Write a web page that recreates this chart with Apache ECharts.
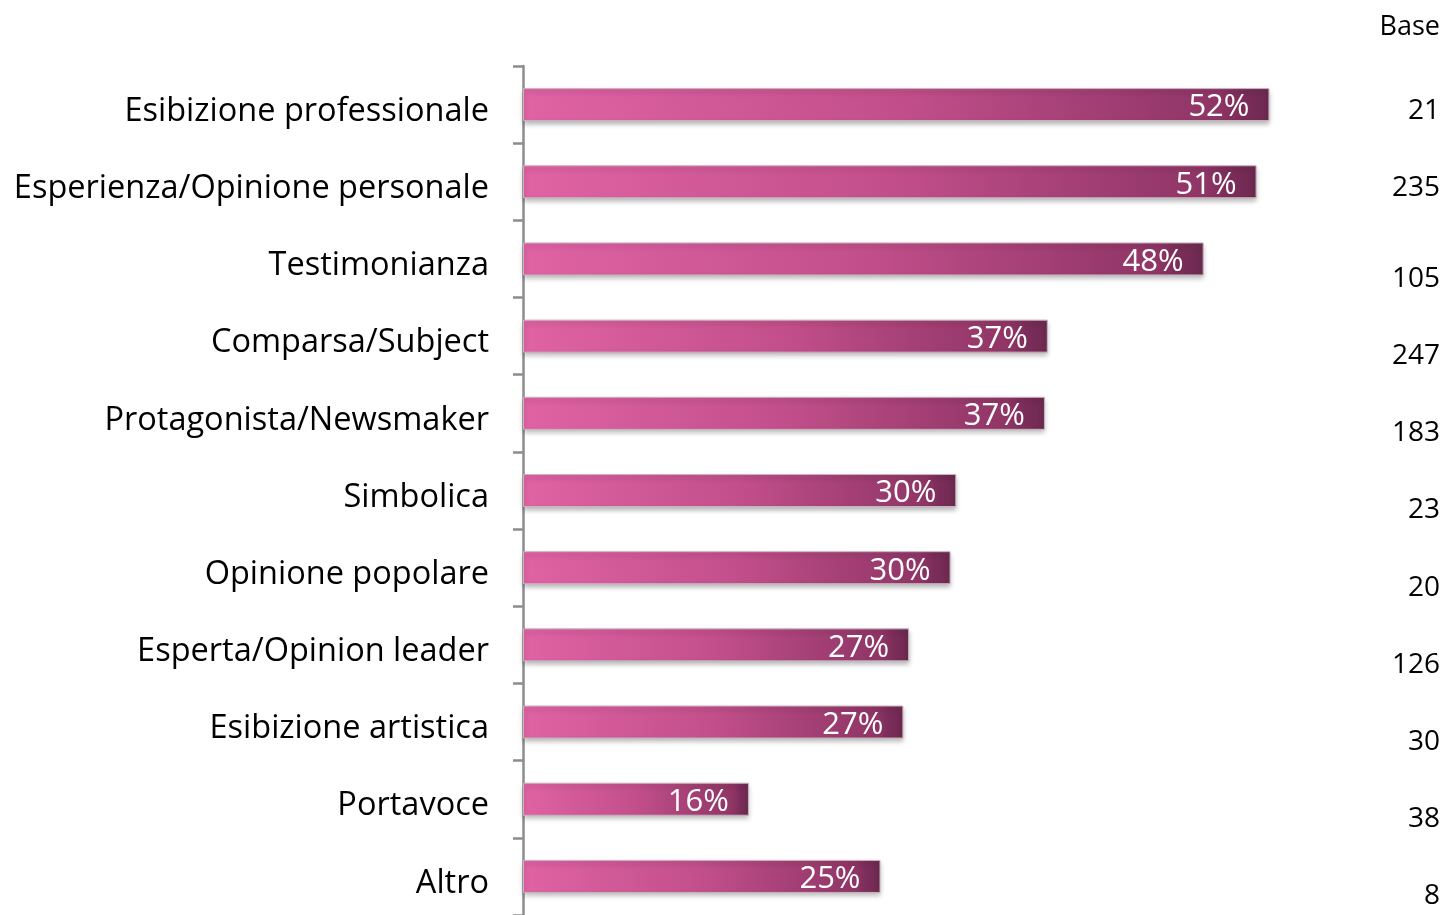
<!DOCTYPE html>
<html>
<head>
<meta charset="utf-8">
<title>Ruolo</title>
<script src="https://cdn.jsdelivr.net/npm/echarts@6/dist/echarts.min.js"></script>
<style>
  html, body { margin: 0; padding: 0; background: #fff; }
  #chart { width: 1445px; height: 915px; }
</style>
</head>
<body>
<div id="chart"></div>
<script>
  var categories = [
    "Esibizione professionale",
    "Esperienza/Opinione personale",
    "Testimonianza",
    "Comparsa/Subject",
    "Protagonista/Newsmaker",
    "Simbolica",
    "Opinione popolare",
    "Esperta/Opinion leader",
    "Esibizione artistica",
    "Portavoce",
    "Altro"
  ];
  var percentValues = [52.2, 51.3, 47.6, 36.7, 36.5, 30.3, 29.9, 27.0, 26.6, 15.8, 25.0];
  var baseValues = ["21", "235", "105", "247", "183", "23", "20", "126", "30", "38", "8"];

  var font = "'Open Sans', 'Noto Sans', sans-serif";
  var chart = echarts.init(document.getElementById("chart"));

  chart.setOption({
    animation: false,
    title: {
      text: "Base",
      right: 0,
      top: 9,
      textStyle: { fontFamily: font, fontSize: 27, fontWeight: "normal", color: "#000" }
    },
    grid: { left: 523, top: 66, width: 858, height: 852 },
    xAxis: { type: "value", min: 0, max: 60, show: false },
    yAxis: [
      {
        type: "category",
        data: categories,
        inverse: true,
        axisLine: { lineStyle: { color: "#8c8c8c", width: 2.5 } },
        axisTick: { show: true, length: 10, lineStyle: { color: "#8c8c8c", width: 2.5 } },
        axisLabel: {
          margin: 34,
          fontFamily: font,
          fontSize: 32.5,
          color: "#000",
          formatter: function (v) { return "{c|" + v + "}"; },
          rich: {
            c: { fontFamily: font, fontSize: 32.5, color: "#000", padding: [14, 0, 0, 0] }
          }
        }
      },
      {
        type: "category",
        data: baseValues,
        inverse: true,
        position: "right",
        axisLine: { show: false },
        axisTick: { show: false },
        axisLabel: {
          margin: 59,
          align: "right",
          fontFamily: font,
          fontSize: 28,
          color: "#000",
          formatter: function (v, i) {
            return i < 2 ? "{a|" + v + "}" : "{b|" + v + "}";
          },
          rich: {
            a: { fontFamily: font, fontSize: 28, color: "#000", padding: [12, 0, 0, 0] },
            b: { fontFamily: font, fontSize: 28, color: "#000", padding: [40, 0, 0, 0] }
          }
        }
      }
    ],
    series: [
      {
        type: "bar",
        data: percentValues,
        barWidth: 33,
        itemStyle: {
          color: new echarts.graphic.LinearGradient(0, 0, 1, 0, [
            { offset: 0, color: "#e063a4" },
            { offset: 0.5, color: "#c24f8b" },
            { offset: 0.93, color: "#8f3566" },
            { offset: 0.96, color: "#7c2d5a" },
            { offset: 1, color: "#6d2a50" }
          ]),
          borderColor: "#c8b4be",
          borderWidth: 1,
          shadowColor: "rgba(0,0,0,0.3)",
          shadowBlur: 5,
          shadowOffsetY: 3
        },
        label: {
          show: true,
          position: "insideRight",
          distance: 20,
          offset: [0, 3],
          color: "#fff",
          fontFamily: font,
          fontSize: 31,
          formatter: function (p) { return Math.round(p.value) + "%"; }
        }
      }
    ]
  });
</script>
</body>
</html>
